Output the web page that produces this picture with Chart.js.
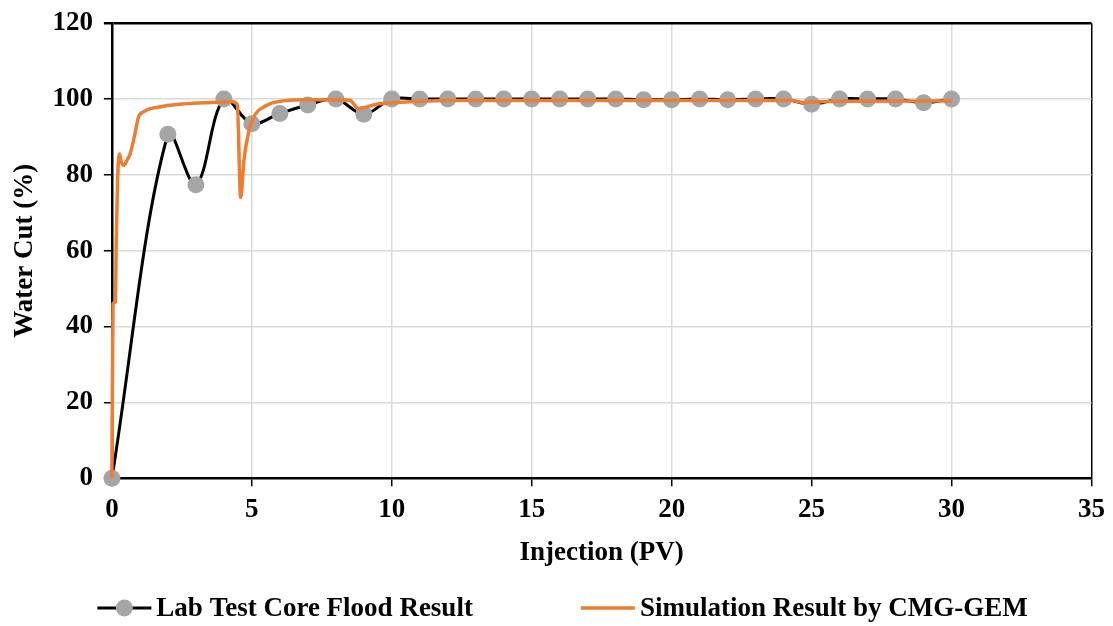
<!DOCTYPE html>
<html>
<head>
<meta charset="utf-8">
<title>Water Cut vs Injection</title>
<script src="https://cdn.jsdelivr.net/npm/chart.js@4.4.1/dist/chart.umd.min.js"></script>
<style>
  html, body { margin: 0; padding: 0; background: #fff; }
  #myChart { display: block; }
</style>
</head>
<body>
<canvas id="myChart" width="1113" height="626"></canvas>
<script>
// lab core flood measurements
const labInjection = [0, 2, 3, 4, 5, 6, 7, 8, 9, 10, 11, 12, 13, 14, 15, 16, 17, 18, 19, 20, 21, 22, 23, 24, 25, 26, 27, 28, 29, 30];
const labWaterCut = [0, 90.7, 77.4, 100, 93.5, 96.2, 98.4, 100, 96.0, 100, 100, 100, 100, 100, 100, 100, 100, 100, 99.8, 99.8, 100, 99.8, 100, 100, 98.6, 100, 100, 100, 99.0, 100];

// CMG-GEM simulation output
const simInjection = [0, 0.04, 0.13, 0.15, 0.2, 0.27, 0.33, 0.42, 0.55, 0.65, 0.82, 0.94, 1.18, 1.7, 2.4, 3.3, 4.3, 4.48, 4.6, 4.72, 4.85, 5.05, 5.5, 6.1, 7, 8.5, 8.8, 9.5, 10, 11, 12, 24.3, 24.7, 25, 26, 30];
const simWaterCut = [0, 46, 46.5, 60, 78, 85.5, 83.5, 82.5, 84, 85.5, 90.7, 95, 96.8, 97.9, 98.6, 99, 99.3, 98.5, 74, 84, 90, 95, 98.2, 99.5, 99.8, 99.7, 97.5, 98.7, 99, 99.4, 99.6, 99.6, 99.1, 99.2, 99.4, 99.5];

const xTickStep = 5;
const yTickStep = 20;

const FONT = '"Liberation Serif", "Times New Roman", serif';
const FONT_SIZE = 27;
const labColor = '#000000';
const markerColor = '#a5a5a5';
const simColor = '#ed7d31';

const toPoints = (xs, ys) => xs.map((x, i) => ({ x: x, y: ys[i] }));

// legend drawn under the axes: line sample + bold label for each series
const bottomLegend = {
  id: 'bottomLegend',
  afterDraw(chart) {
    const ctx = chart.ctx;
    const items = [
      { text: 'Lab Test Core Flood Result', color: labColor, marker: true },
      { text: 'Simulation Result by CMG-GEM', color: simColor, marker: false }
    ];
    const sample = 54, gapText = 5, gapItems = 108;
    const y = 608;
    ctx.save();
    ctx.font = 'bold ' + FONT_SIZE + 'px ' + FONT;
    ctx.textBaseline = 'middle';
    ctx.textAlign = 'left';
    let total = 0;
    items.forEach((it, i) => {
      it.w = ctx.measureText(it.text).width;
      total += sample + gapText + it.w + (i ? gapItems : 0);
    });
    let x = chart.width / 2 - total / 2 + 6;
    items.forEach((it, i) => {
      if (i) x += gapItems;
      ctx.strokeStyle = it.color;
      ctx.lineWidth = it.marker ? 3 : 3.5;
      ctx.beginPath();
      ctx.moveTo(x, y);
      ctx.lineTo(x + sample, y);
      ctx.stroke();
      if (it.marker) {
        ctx.fillStyle = markerColor;
        ctx.beginPath();
        ctx.arc(x + sample / 2, y, 8.5, 0, Math.PI * 2);
        ctx.fill();
      }
      x += sample + gapText;
      ctx.fillStyle = '#000';
      ctx.fillText(it.text, x, y + 1);
      x += it.w;
    });
    ctx.restore();
  }
};

const ctx = document.getElementById('myChart');
new Chart(ctx, {
  type: 'line',
  data: {
    datasets: [{
      label: 'Lab Test Core Flood Result',
      data: toPoints(labInjection, labWaterCut),
      borderColor: labColor,
      borderWidth: 3,
      tension: 0.35,
      pointRadius: 8.5,
      pointHoverRadius: 8.5,
      pointBackgroundColor: markerColor,
      pointBorderWidth: 0,
      clip: false,
      order: 2
    }, {
      label: 'Simulation Result by CMG-GEM',
      data: toPoints(simInjection, simWaterCut),
      borderColor: simColor,
      borderWidth: 3.5,
      cubicInterpolationMode: 'monotone',
      pointRadius: 0,
      clip: false,
      order: 1
    }]
  },
  options: {
    responsive: false,
    animation: false,
    layout: { padding: { top: 0, right: 8, left: 9, bottom: 57 } },
    plugins: {
      legend: { display: false },
      tooltip: { enabled: false }
    },
    scales: {
      x: {
        type: 'linear',
        min: 0,
        max: 35,
        ticks: {
          stepSize: xTickStep,
          color: '#000',
          padding: 8,
          font: { family: FONT, size: FONT_SIZE, weight: 'bold' }
        },
        grid: {
          color: c => (c.tick && c.tick.value === 35) ? '#000' : '#d9d9d9',
          lineWidth: 1.5,
          tickColor: '#000',
          tickLength: 8
        },
        border: { color: '#000', width: 2.5 },
        title: {
          display: true,
          text: 'Injection (PV)',
          color: '#000',
          padding: { top: 2, bottom: 0 },
          font: { family: FONT, size: FONT_SIZE, weight: 'bold' }
        }
      },
      y: {
        min: 0,
        max: 120,
        ticks: {
          stepSize: yTickStep,
          color: '#000',
          padding: 11,
          font: { family: FONT, size: FONT_SIZE, weight: 'bold', lineHeight: 0.9 }
        },
        grid: {
          color: c => (c.tick && c.tick.value === 120) ? '#000' : '#d9d9d9',
          lineWidth: c => (c.tick && c.tick.value === 120) ? 2.5 : 1.5,
          tickColor: '#000',
          tickLength: 8
        },
        border: { color: '#000', width: 2.5 },
        title: {
          display: true,
          text: 'Water Cut (%)',
          color: '#000',
          padding: { top: 0, bottom: 0 },
          font: { family: FONT, size: FONT_SIZE, weight: 'bold' }
        }
      }
    }
  },
  plugins: [bottomLegend]
});
</script>
</body>
</html>
